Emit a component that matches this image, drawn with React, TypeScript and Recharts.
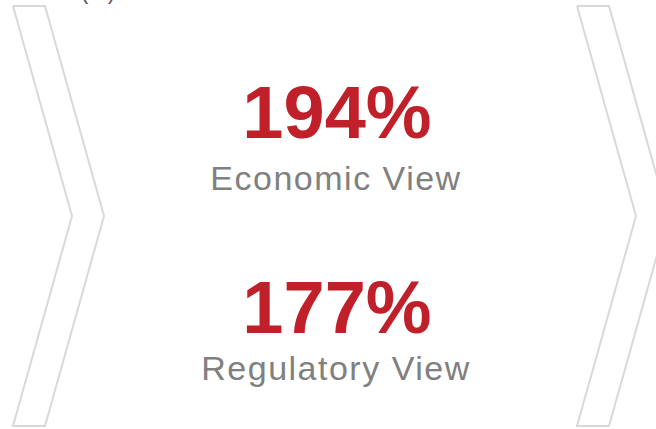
import { ComposedChart, Scatter, XAxis, YAxis } from 'recharts';

// chevron outlines (pixel space, y grows downward)
const leftChevron = [
  { x: 13, y: 6 },
  { x: 45, y: 6 },
  { x: 104, y: 216 },
  { x: 45, y: 426 },
  { x: 13, y: 426 },
  { x: 72, y: 216 },
  { x: 13, y: 6 },
];

const rightChevron = [
  { x: 577, y: 6 },
  { x: 609, y: 6 },
  { x: 668, y: 216 },
  { x: 609, y: 426 },
  { x: 577, y: 426 },
  { x: 636, y: 216 },
  { x: 577, y: 6 },
];

const ratios = ['194%', '177%'];
const views = ['Economic View', 'Regulatory View'];
const unitLabel = '(%)';

const valueTexts = [
  { x: 337, y: 138, label: ratios[0] },
  { x: 337, y: 333, label: ratios[1] },
];

const viewTexts = [
  { x: 336, y: 190, label: views[0] },
  { x: 336, y: 380, label: views[1] },
];

const headTexts = [{ x: 98, y: -1, label: unitLabel }];

const FONT = '"Liberation Sans", Arial, sans-serif';

const noMark = () => <g />;

const valueShape = (p: any) => (
  <text x={p.cx} y={p.cy} textAnchor="middle" fontFamily={FONT} fontSize={74} fontWeight="bold" fill="#c0202a">
    {p.payload.label}
  </text>
);

const viewShape = (p: any) => (
  <text x={p.cx} y={p.cy} textAnchor="middle" fontFamily={FONT} fontSize={34} letterSpacing={1.5} fill="#808080">
    {p.payload.label}
  </text>
);

const headShape = (p: any) => (
  <text x={p.cx} y={p.cy} textAnchor="middle" fontFamily={FONT} fontSize={22} fill="#595959">
    {p.payload.label}
  </text>
);

export default function App() {
  return (
    <div style={{ position: 'absolute', left: 0, top: 0, background: '#fff' }}>
      <ComposedChart width={656} height={429} margin={{ top: 0, right: 0, bottom: 0, left: 0 }}>
        <XAxis type="number" dataKey="x" domain={[0, 656]} allowDataOverflow hide />
        <YAxis type="number" dataKey="y" domain={[0, 429]} reversed allowDataOverflow hide width={0} />
        <Scatter data={leftChevron} line={{ stroke: '#d9d9d9', strokeWidth: 2 }} shape={noMark} isAnimationActive={false} />
        <Scatter data={rightChevron} line={{ stroke: '#d9d9d9', strokeWidth: 2 }} shape={noMark} isAnimationActive={false} />
        <Scatter data={valueTexts} shape={valueShape} isAnimationActive={false} />
        <Scatter data={viewTexts} shape={viewShape} isAnimationActive={false} />
        <Scatter data={headTexts} shape={headShape} isAnimationActive={false} />
      </ComposedChart>
    </div>
  );
}
